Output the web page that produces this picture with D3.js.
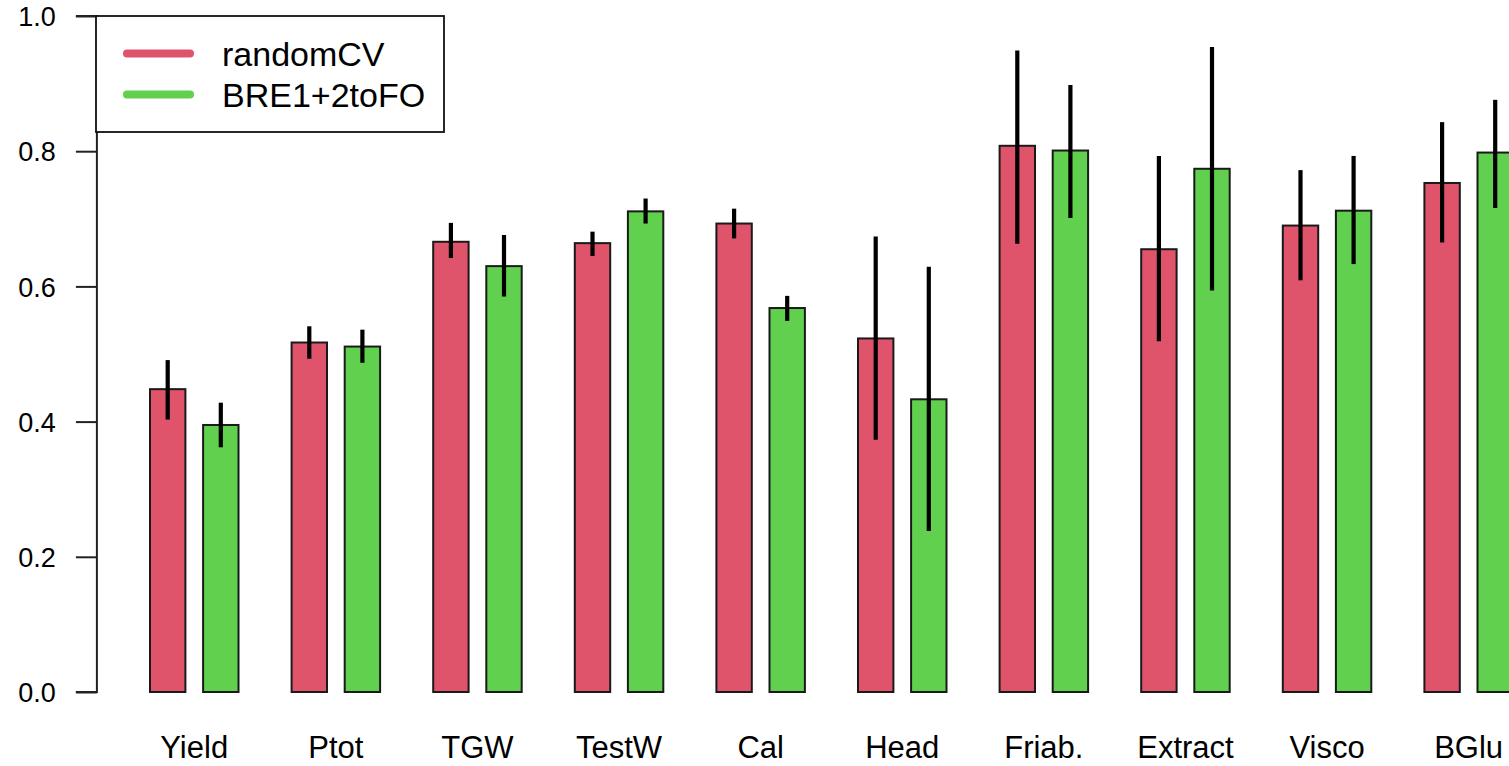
<!DOCTYPE html>
<html>
<head>
<meta charset="utf-8">
<script src="https://cdn.jsdelivr.net/npm/d3@7"></script>
<style>
  html, body { margin: 0; padding: 0; background: #fff; overflow: hidden; }
  svg { display: block; }
  text { font-family: "Liberation Sans", Arial, sans-serif; fill: #000; }
</style>
</head>
<body>
<svg id="chart" width="1509" height="766"></svg>
<script>
// Traits and prediction accuracies for the two cross-validation schemes
const categories = ["Yield", "Ptot", "TGW", "TestW", "Cal", "Head", "Friab.", "Extract", "Visco", "BGlu"];
const seriesNames = ["randomCV", "BRE1+2toFO"];
const seriesColors = ["#DF536B", "#61D04F"];

const randomCV    = [0.448, 0.517, 0.666, 0.664, 0.693, 0.523, 0.808, 0.655, 0.690, 0.753];
const randomCVLow = [0.403, 0.493, 0.642, 0.645, 0.671, 0.373, 0.663, 0.519, 0.609, 0.665];
const randomCVHigh= [0.491, 0.541, 0.694, 0.681, 0.715, 0.674, 0.949, 0.793, 0.772, 0.843];

const breFO       = [0.395, 0.511, 0.630, 0.711, 0.568, 0.433, 0.801, 0.774, 0.712, 0.798];
const breFOLow    = [0.362, 0.487, 0.585, 0.693, 0.549, 0.238, 0.701, 0.594, 0.633, 0.716];
const breFOHigh   = [0.428, 0.536, 0.676, 0.730, 0.586, 0.629, 0.898, 0.954, 0.793, 0.876];

const yTicks = [0, 0.2, 0.4, 0.6, 0.8, 1.0];

const series = [
  { name: seriesNames[0], color: seriesColors[0], values: randomCV, lo: randomCVLow, hi: randomCVHigh },
  { name: seriesNames[1], color: seriesColors[1], values: breFO, lo: breFOLow, hi: breFOHigh }
];

const svg = d3.select("#chart");

// barplot-style layout in bar-width units: 1.5 units before each group, 0.5 between the pair
const groupSpace = 1.5, innerSpace = 0.5;
const x = d3.scaleLinear().domain([0, 40]).range([96.9, 96.9 + 40 * 35.4]);
const y = d3.scaleLinear().domain([0, 1]).range([692, 16]);

function barLeft(gi, si) {
  return gi * (2 + groupSpace + innerSpace) + groupSpace + si * (1 + innerSpace);
}

const plot = svg.append("g");

series.forEach((s, si) => {
  const g = plot.append("g");
  g.selectAll("rect")
    .data(s.values)
    .join("rect")
    .attr("x", (d, i) => x(barLeft(i, si)))
    .attr("width", x(1) - x(0))
    .attr("y", d => y(d))
    .attr("height", d => y(0) - y(d))
    .attr("fill", s.color)
    .attr("stroke", "#1a1a1a")
    .attr("stroke-width", 2);
});

// error bars
series.forEach((s, si) => {
  plot.append("g").selectAll("line")
    .data(s.values.map((v, i) => ({ lo: s.lo[i], hi: s.hi[i], i })))
    .join("line")
    .attr("x1", d => x(barLeft(d.i, si) + 0.5))
    .attr("x2", d => x(barLeft(d.i, si) + 0.5))
    .attr("y1", d => y(d.lo))
    .attr("y2", d => y(d.hi))
    .attr("stroke", "#000")
    .attr("stroke-width", 4.2);
});

// y axis
const yAxis = d3.axisLeft(y)
  .tickValues(yTicks)
  .tickFormat(d3.format(".1f"))
  .tickSize(21)
  .tickPadding(20);
const ay = svg.append("g")
  .attr("transform", `translate(${x(0)},0)`)
  .call(yAxis);
ay.select(".domain").attr("d", `M-21,${y(0)}H0V${y(1)}H-21`).attr("stroke", "#222").attr("stroke-width", 2);
ay.selectAll(".tick line").attr("stroke", "#222").attr("stroke-width", 2);
ay.selectAll(".tick text")
  .attr("font-family", "Liberation Sans, Arial, sans-serif")
  .attr("font-size", 27)
  .attr("fill", "#000")
  .attr("dy", "0.36em");

// category labels
svg.append("g").selectAll("text")
  .data(categories)
  .join("text")
  .attr("x", (d, i) => x(barLeft(i, 0) + 1.25))
  .attr("y", 758)
  .attr("text-anchor", "middle")
  .attr("font-size", 31)
  .text(d => d);

// legend
const legend = svg.append("g");
legend.append("rect")
  .attr("x", 96).attr("y", 16)
  .attr("width", 348).attr("height", 116)
  .attr("fill", "#fff")
  .attr("stroke", "#111")
  .attr("stroke-width", 1.8);
series.forEach((s, si) => {
  const cy = 53.5 + si * 41;
  legend.append("line")
    .attr("x1", 127).attr("x2", 190)
    .attr("y1", cy).attr("y2", cy)
    .attr("stroke", s.color)
    .attr("stroke-width", 8)
    .attr("stroke-linecap", "round");
  legend.append("text")
    .attr("x", 222).attr("y", cy + 12)
    .attr("font-size", 34)
    .text(s.name);
});
</script>
</body>
</html>
